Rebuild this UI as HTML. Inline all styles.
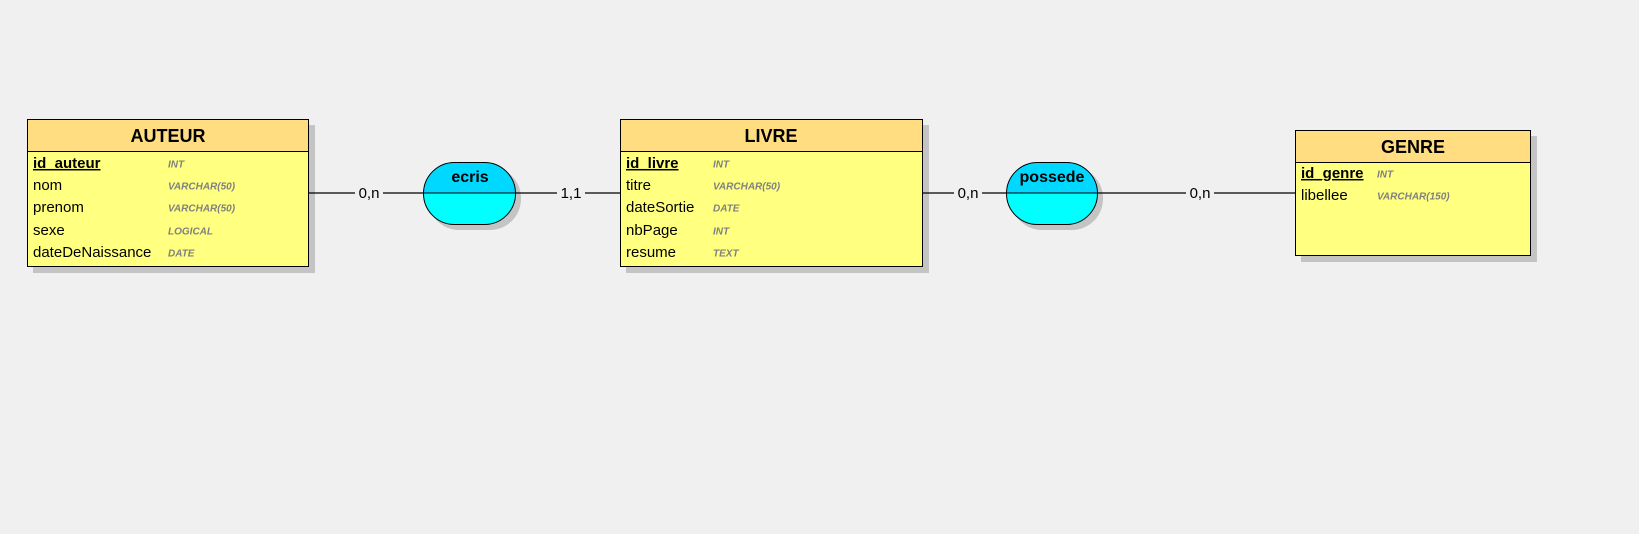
<!DOCTYPE html>
<html><head><meta charset="utf-8"><style>
html,body{margin:0;padding:0;background:#f0f0f0;}
svg{display:block;font-family:"Liberation Sans",sans-serif;}
.h{font-weight:bold;font-size:18px;text-anchor:middle;}
.a{font-size:15px;}
.k{font-size:15px;font-weight:bold;text-decoration:underline;}
.t{font-size:10px;font-style:italic;font-weight:bold;fill:#808080;}
.l{font-size:15px;text-anchor:middle;}
.r{font-size:16px;font-weight:bold;text-anchor:middle;}
</style></head><body>
<svg width="1639" height="534" viewBox="0 0 1639 534">
<!-- shadows -->
<g fill="#c4c4c4">
<rect x="33" y="125" width="282" height="148"/>
<rect x="626" y="125" width="303" height="148"/>
<rect x="1301" y="136" width="236" height="126"/>
<rect x="428" y="167" width="93" height="63" rx="31"/>
<rect x="1011" y="167" width="92" height="63" rx="31"/>
</g>
<!-- lines -->
<g stroke="#000" stroke-width="1.2">
<line x1="309" y1="193" x2="355" y2="193"/><line x1="383" y1="193" x2="423" y2="193"/>
<line x1="516" y1="193" x2="557" y2="193"/><line x1="585" y1="193" x2="620" y2="193"/>
<line x1="923" y1="193" x2="954" y2="193"/><line x1="982" y1="193" x2="1006" y2="193"/>
<line x1="1098" y1="193" x2="1186" y2="193"/><line x1="1214" y1="193" x2="1295" y2="193"/>
</g>
<g dominant-baseline="middle">
<text class="l" x="369" y="194">0,n</text>
<text class="l" x="571" y="194">1,1</text>
<text class="l" x="968" y="194">0,n</text>
<text class="l" x="1200" y="194">0,n</text>
</g>
<!-- AUTEUR -->
<rect x="27.5" y="119.5" width="281" height="147" fill="#ffff80" stroke="#000"/>
<rect x="27.5" y="119.5" width="281" height="32" fill="#ffdd80" stroke="#000"/>
<text class="h" x="168" y="142">AUTEUR</text>
<g dominant-baseline="middle">
<text class="k" x="33" y="164">id_auteur</text><text class="t" x="168" y="165">INT</text>
<text class="a" x="33" y="186">nom</text><text class="t" x="168" y="187">VARCHAR(50)</text>
<text class="a" x="33" y="208">prenom</text><text class="t" x="168" y="209">VARCHAR(50)</text>
<text class="a" x="33" y="231">sexe</text><text class="t" x="168" y="232">LOGICAL</text>
<text class="a" x="33" y="253">dateDeNaissance</text><text class="t" x="168" y="254">DATE</text>
</g>
<!-- LIVRE -->
<rect x="620.5" y="119.5" width="302" height="147" fill="#ffff80" stroke="#000"/>
<rect x="620.5" y="119.5" width="302" height="32" fill="#ffdd80" stroke="#000"/>
<text class="h" x="771" y="142">LIVRE</text>
<g dominant-baseline="middle">
<text class="k" x="626" y="164">id_livre</text><text class="t" x="713" y="165">INT</text>
<text class="a" x="626" y="186">titre</text><text class="t" x="713" y="187">VARCHAR(50)</text>
<text class="a" x="626" y="208">dateSortie</text><text class="t" x="713" y="209">DATE</text>
<text class="a" x="626" y="231">nbPage</text><text class="t" x="713" y="232">INT</text>
<text class="a" x="626" y="253">resume</text><text class="t" x="713" y="254">TEXT</text>
</g>
<!-- GENRE -->
<rect x="1295.5" y="130.5" width="235" height="125" fill="#ffff80" stroke="#000"/>
<rect x="1295.5" y="130.5" width="235" height="32" fill="#ffdd80" stroke="#000"/>
<text class="h" x="1413" y="153">GENRE</text>
<g dominant-baseline="middle">
<text class="k" x="1301" y="174">id_genre</text><text class="t" x="1377" y="175">INT</text>
<text class="a" x="1301" y="196">libellee</text><text class="t" x="1377" y="197">VARCHAR(150)</text>
</g>
<defs>
<clipPath id="c1"><rect x="423" y="162" width="93" height="31"/></clipPath>
<clipPath id="c2"><rect x="1006" y="162" width="92" height="31"/></clipPath>
</defs>
<!-- ecris -->
<rect x="423.5" y="162.5" width="92" height="62" rx="31" fill="#00ffff"/>
<rect x="423.5" y="162.5" width="92" height="62" rx="31" fill="#00d8ff" clip-path="url(#c1)"/>
<rect x="423.5" y="162.5" width="92" height="62" rx="31" fill="none" stroke="#000"/>
<line x1="423" y1="193" x2="516" y2="193" stroke="#000"/>
<text class="r" x="470" y="182">ecris</text>
<!-- possede -->
<rect x="1006.5" y="162.5" width="91" height="62" rx="31" fill="#00ffff"/>
<rect x="1006.5" y="162.5" width="91" height="62" rx="31" fill="#00d8ff" clip-path="url(#c2)"/>
<rect x="1006.5" y="162.5" width="91" height="62" rx="31" fill="none" stroke="#000"/>
<line x1="1006" y1="193" x2="1098" y2="193" stroke="#000"/>
<text class="r" x="1052" y="182">possede</text>
</svg>
</body></html>
